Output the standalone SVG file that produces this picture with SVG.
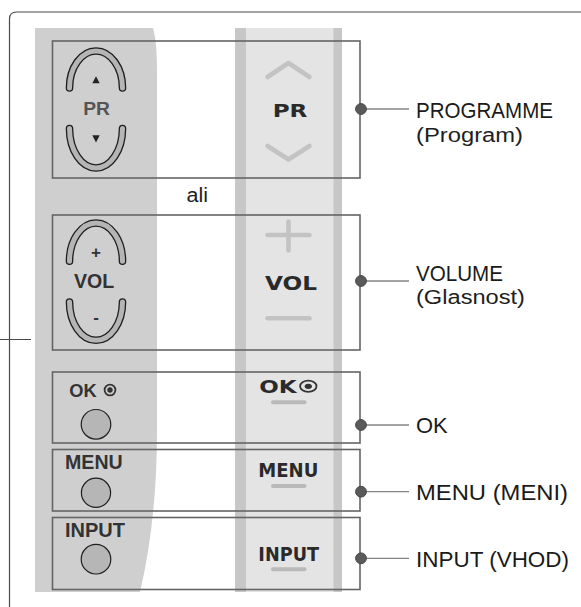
<svg xmlns="http://www.w3.org/2000/svg" width="581" height="607" viewBox="0 0 581 607">
  <style>
    .frame { fill: none; stroke: #4a4a4a; stroke-width: 1.2; }
    .panel { fill: #cfcfcf; }
    .box { fill: none; stroke: #646464; stroke-width: 1.6; }
    .rock-o { fill: none; stroke: #1e1e1e; stroke-width: 7.6; stroke-linecap: round; }
    .rock-i { fill: none; stroke: #b5b5b5; stroke-width: 5; stroke-linecap: round; }
    .btn { fill: #b6b6b6; stroke: #1e1e1e; stroke-width: 1.2; }
    .mark { fill: none; stroke: #c3c3c3; stroke-width: 4.6; stroke-linecap: round; stroke-linejoin: round; }
    .dash { fill: none; stroke: #b9b9b9; stroke-width: 4; stroke-linecap: round; }
    .lk { font-family: "Liberation Sans", Arial, sans-serif; font-weight: bold; fill: #333; }
    .sk { font-family: "DejaVu Sans", Verdana, sans-serif; font-weight: bold; fill: #2a2a2a; text-anchor: middle; }
    .lbl { font-family: "Liberation Sans", Arial, sans-serif; fill: #1a1a1a; font-size: 22px; }
    .sub { font-family: "Liberation Sans", Arial, sans-serif; fill: #1e1e1e; font-size: 19.5px; }
    .conn { stroke: #858585; stroke-width: 1.3; fill: none; }
    .dot { fill: #5a5a5a; stroke: #474747; stroke-width: 1; }
  </style>

  <!-- outer frame and left pointer -->
  <path class="frame" d="M9.5,607 V19 Q9.5,12 16.5,12 H581"/>
  <line x1="0" y1="339.5" x2="31" y2="339.5" stroke="#4a4a4a" stroke-width="1"/>

  <!-- side panel (buttons) -->
  <path class="panel" d="M35,28 L153,28 Q157,42 157,70 L157,430 Q157,520 140,592 L35,592 Z"/>

  <!-- front strip (touch keys) -->
  <rect x="235" y="28" width="107" height="564" fill="#c7c7c7"/>
  <rect x="246" y="28" width="87.5" height="564" fill="#e4e4e4"/>

  <!-- PROGRAMME -->
  <g id="node-programme">
    <rect class="box" x="52.5" y="41" width="307.5" height="137"/>
    <path class="rock-o" d="M69.5,88 A26.5,37 0 0 1 122.5,88"/>
    <path class="rock-i" d="M69.5,88 A26.5,37 0 0 1 122.5,88"/>
    <path class="rock-o" d="M69.5,128.5 A26.5,39.5 0 0 0 122.5,128.5"/>
    <path class="rock-i" d="M69.5,128.5 A26.5,39.5 0 0 0 122.5,128.5"/>
    <polygon points="92.3,83.3 99.7,83.3 96,76.3" fill="#222"/>
    <polygon points="92.3,135.3 99.7,135.3 96,142.5" fill="#222"/>
    <text class="lk" x="83.3" y="115" font-size="17.5" style="fill:#555" textLength="26.7" lengthAdjust="spacingAndGlyphs">PR</text>
    <path class="mark" d="M267.5,77 L288.5,63 L309.5,77"/>
    <text class="sk" x="290" y="117.3" font-size="18" textLength="34.7" lengthAdjust="spacingAndGlyphs">PR</text>
    <path class="mark" d="M267.5,146 L288.5,159.5 L309.5,146"/>
  </g>

  <text x="186.5" y="202" font-family="Liberation Sans, Arial, sans-serif" font-size="20" fill="#1e1e1e" textLength="21.5" lengthAdjust="spacingAndGlyphs">ali</text>

  <!-- VOLUME -->
  <g id="node-volume">
    <rect class="box" x="52.5" y="215" width="307.5" height="135"/>
    <path class="rock-o" d="M69.5,261.3 A26.5,38.3 0 0 1 122.5,261.3"/>
    <path class="rock-i" d="M69.5,261.3 A26.5,38.3 0 0 1 122.5,261.3"/>
    <path class="rock-o" d="M69.5,302 A26.5,38.3 0 0 0 122.5,302"/>
    <path class="rock-i" d="M69.5,302 A26.5,38.3 0 0 0 122.5,302"/>
    <text class="lk" x="96" y="257.5" font-size="17" text-anchor="middle">+</text>
    <text class="lk" x="96" y="322.5" font-size="17" text-anchor="middle">-</text>
    <text class="lk" x="74" y="288.3" font-size="19.5" textLength="40.3" lengthAdjust="spacingAndGlyphs">VOL</text>
    <path class="mark" d="M267.5,235 H309.5 M288.5,221.5 V250.5"/>
    <text class="sk" x="291" y="290" font-size="19" textLength="52" lengthAdjust="spacingAndGlyphs">VOL</text>
    <path class="mark" d="M267.5,318.3 H309.5"/>
  </g>

  <!-- OK -->
  <g id="node-ok">
    <rect class="box" x="52.5" y="372" width="307.5" height="71"/>
    <text class="lk" x="69.3" y="396.7" font-size="17.5" textLength="27.4" lengthAdjust="spacingAndGlyphs">OK</text>
    <circle cx="110" cy="390" r="5.4" fill="none" stroke="#333" stroke-width="1.8"/>
    <circle cx="110" cy="390" r="2.7" fill="#333"/>
    <circle class="btn" cx="96" cy="424.3" r="14.8"/>
    <text class="sk" x="278" y="393.3" font-size="18" textLength="37.4" lengthAdjust="spacingAndGlyphs">OK</text>
    <ellipse cx="308.3" cy="386.3" rx="8.2" ry="5.6" fill="none" stroke="#333" stroke-width="1.8"/>
    <ellipse cx="308.3" cy="386.3" rx="3.6" ry="2.6" fill="#333"/>
    <path class="dash" d="M273,402.3 H304.5"/>
  </g>

  <!-- MENU -->
  <g id="node-menu">
    <rect class="box" x="52.5" y="449.5" width="307.5" height="61.5"/>
    <text class="lk" x="65" y="469" font-size="20" textLength="57.7" lengthAdjust="spacingAndGlyphs">MENU</text>
    <circle class="btn" cx="96" cy="492.8" r="14.6"/>
    <text class="sk" x="288.3" y="476.7" font-size="19" textLength="60" lengthAdjust="spacingAndGlyphs">MENU</text>
    <path class="dash" d="M273,486 H304.5"/>
  </g>

  <!-- INPUT -->
  <g id="node-input">
    <rect class="box" x="52.5" y="517.5" width="307.5" height="72"/>
    <text class="lk" x="65" y="537.3" font-size="20" textLength="60" lengthAdjust="spacingAndGlyphs">INPUT</text>
    <circle class="btn" cx="96" cy="559.2" r="14.8"/>
    <text class="sk" x="288.7" y="560.7" font-size="19" textLength="60.7" lengthAdjust="spacingAndGlyphs">INPUT</text>
    <path class="dash" d="M273,569.3 H304.5"/>
  </g>

  <!-- callout leaders -->
  <g id="connectors">
    <line class="conn" x1="361" y1="109" x2="409" y2="109"/>
    <line class="conn" x1="361" y1="281" x2="409" y2="281"/>
    <line class="conn" x1="361" y1="425" x2="409" y2="425"/>
    <line class="conn" x1="361" y1="491.7" x2="409" y2="491.7"/>
    <line class="conn" x1="361" y1="558.3" x2="409" y2="558.3"/>
    <circle class="dot" cx="361" cy="109" r="5.4"/>
    <circle class="dot" cx="361" cy="281" r="5.4"/>
    <circle class="dot" cx="361" cy="425" r="5.4"/>
    <circle class="dot" cx="361" cy="491.7" r="5.4"/>
    <circle class="dot" cx="361" cy="558.3" r="5.4"/>
  </g>

  <!-- callout labels -->
  <g id="label-programme">
    <text class="lbl" x="416" y="118" textLength="137" lengthAdjust="spacingAndGlyphs">PROGRAMME</text>
    <text class="sub" x="416" y="142" textLength="107" lengthAdjust="spacingAndGlyphs">(Program)</text>
  </g>
  <g id="label-volume">
    <text class="lbl" x="416" y="281.3" textLength="87" lengthAdjust="spacingAndGlyphs">VOLUME</text>
    <text class="sub" x="416" y="303.8" textLength="109" lengthAdjust="spacingAndGlyphs">(Glasnost)</text>
  </g>
  <g id="label-ok">
    <text class="lbl" x="416" y="433.3" textLength="31.7" lengthAdjust="spacingAndGlyphs">OK</text>
  </g>
  <g id="label-menu">
    <text class="lbl" x="416" y="500" textLength="152" lengthAdjust="spacingAndGlyphs">MENU (MENI)</text>
  </g>
  <g id="label-input">
    <text class="lbl" x="416" y="566.7" textLength="153" lengthAdjust="spacingAndGlyphs">INPUT (VHOD)</text>
  </g>
</svg>
